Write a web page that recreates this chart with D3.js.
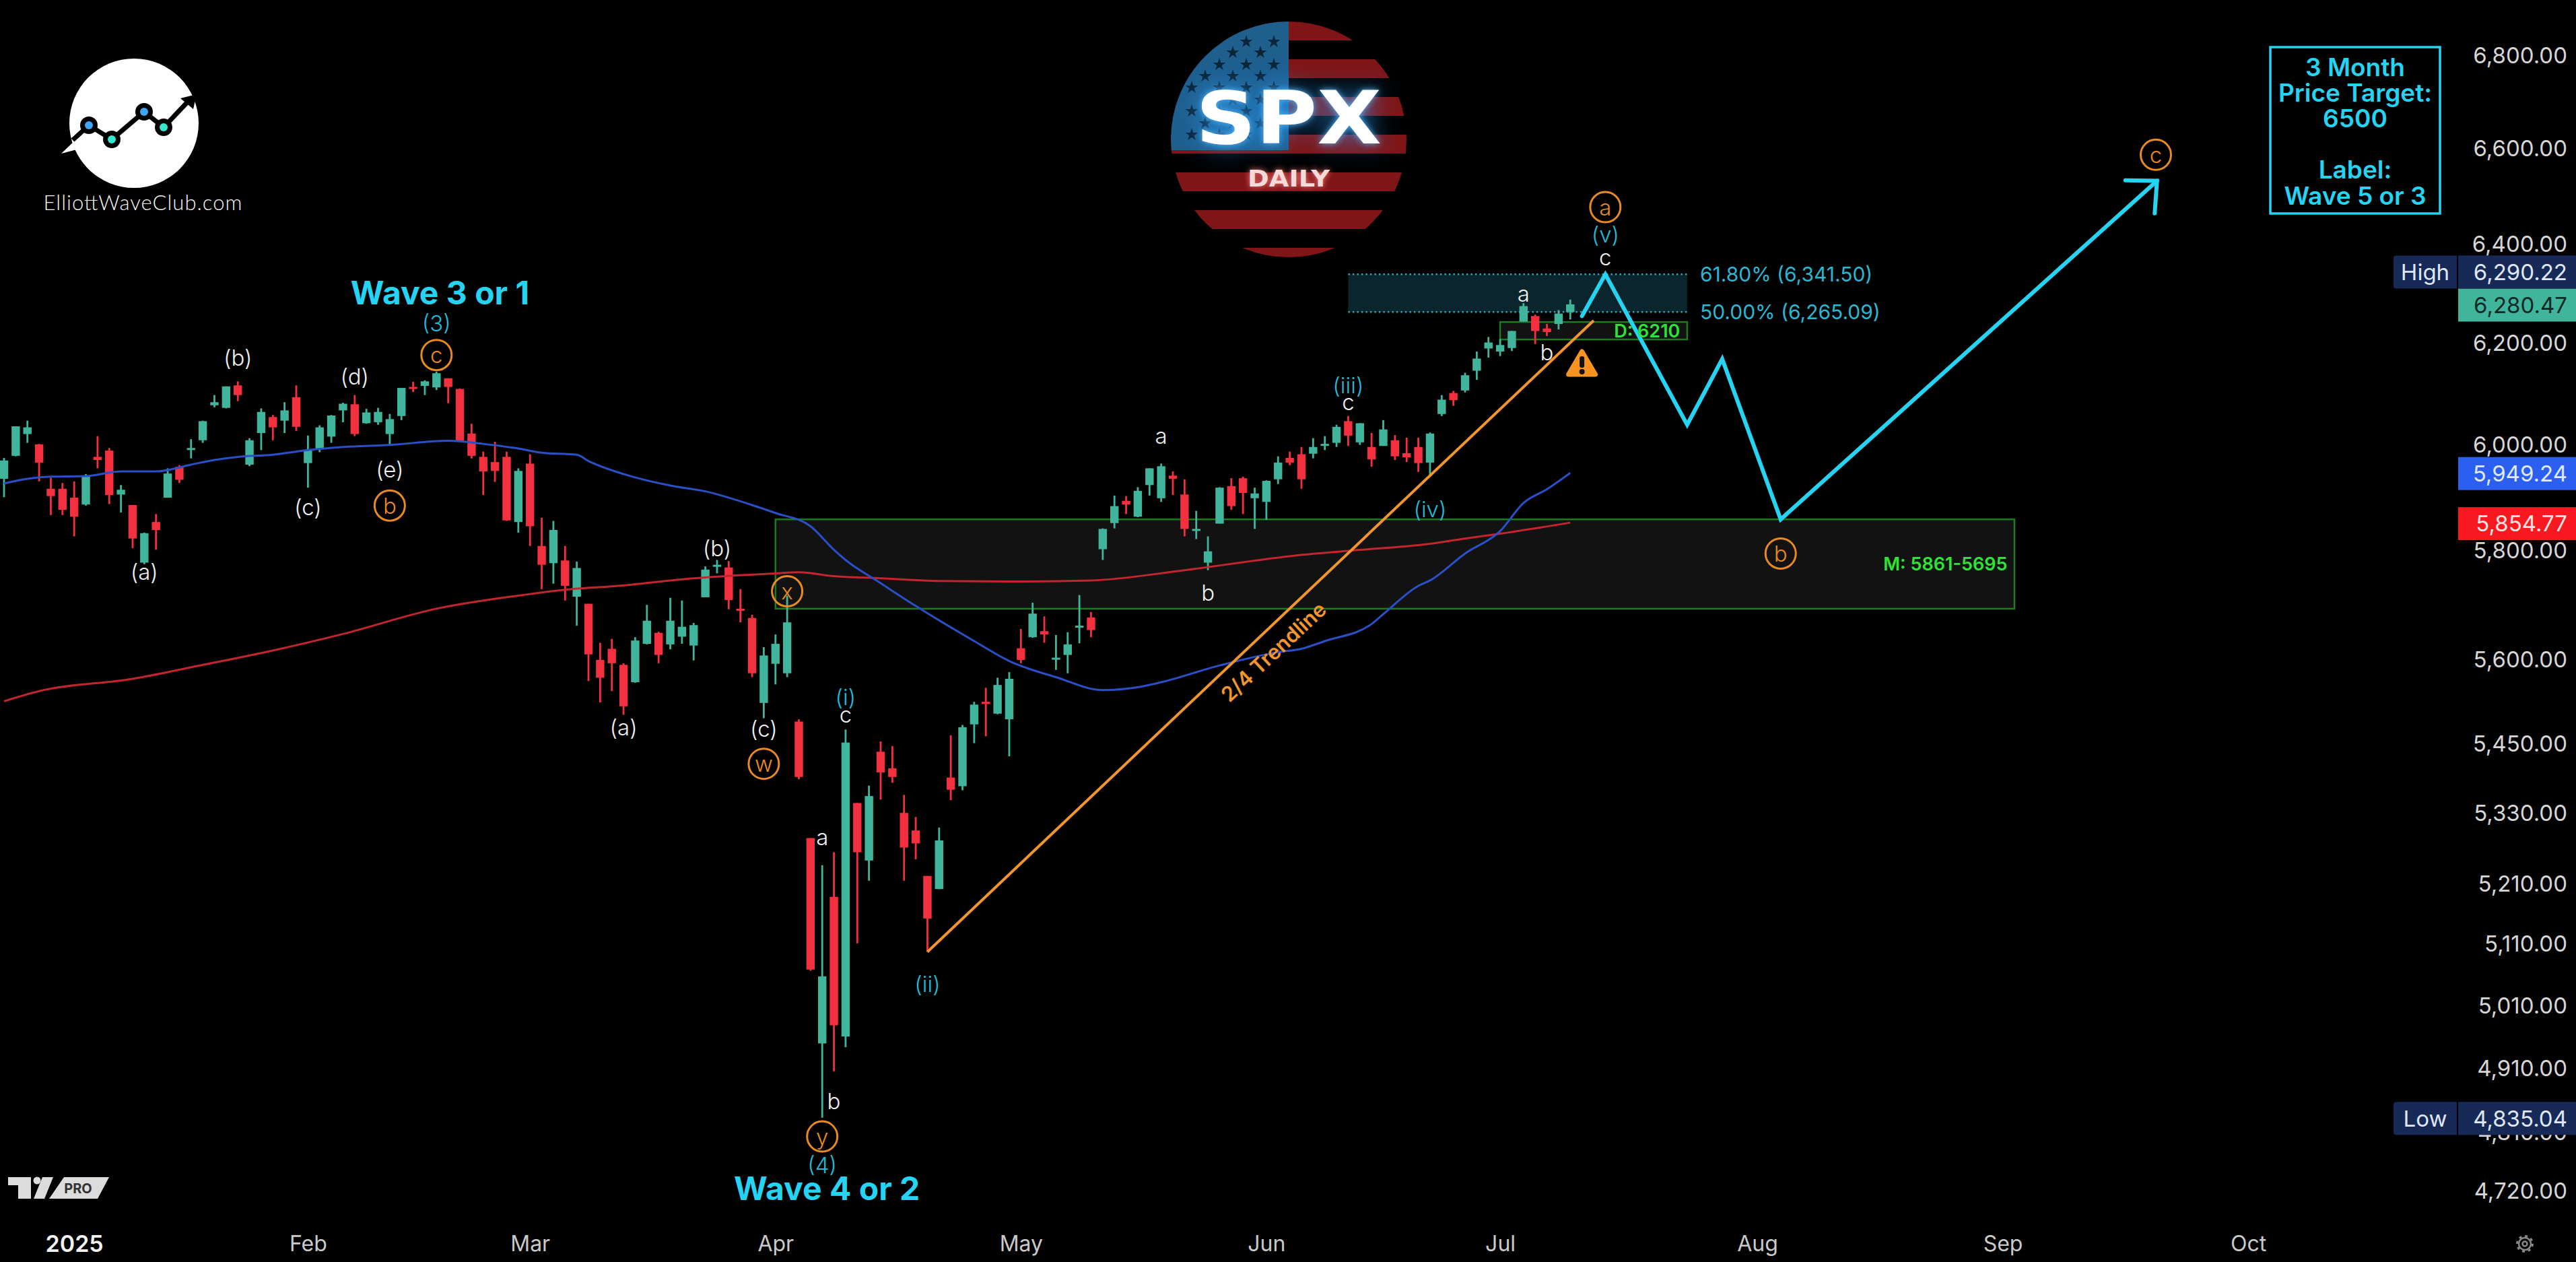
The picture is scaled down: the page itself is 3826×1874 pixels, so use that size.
<!DOCTYPE html>
<html>
<head>
<meta charset="utf-8">
<title>SPX Daily Elliott Wave</title>
<script src="https://cdn.jsdelivr.net/npm/d3@7/dist/d3.min.js"></script>
<style>
  html, body { margin: 0; padding: 0; background: #000; overflow: hidden; }
  svg { display: block; }
  text { font-family: Inter, "Noto Sans", sans-serif; }
</style>
</head>
<body>
<svg id="chart" width="3826" height="1874"></svg>
<script>
// Daily S&P 500 candles, one entry per trading session
const opens = [5938,5982,6024,6004,5919,5919,5902,5889,5980,5992,5908,5888,5780,5856,5902,5961,5996,6012,6080,6075,
  6119,5965,6026,6057,6050,6096,5968,5996,6019,6070,6082,6045,6047,6024,6059,6116,6118,6115,6133,6112,
  6025,5980,5970,5980,5856,5967,5811,5779,5784,5717,5704,5602,5622,5593,5562,5631,5651,5630,5644,5628,
  5716,5775,5771,5695,5678,5525,5595,5578,5492,5290,4952,5191,4963,5350,5252,5439,5410,5333,5303,5226,
  5204,5394,5379,5487,5527,5506,5496,5623,5643,5654,5604,5611,5663,5679,5805,5854,5896,5866,5926,5901,
  5944,5908,5841,5780,5853,5924,5939,5901,5894,5937,5978,5985,5986,6004,6007,6049,6008,5999,6001,6012,
  5987,5999,5969,6063,6104,6109,6148,6192,6186,6193,6246,6257,6232,6241,6265];
const highs = [5978,6039,6050,6005,5940,5930,5933,5947,6020,5997,5926,5888,5836,5871,5958,5964,6014,6050,6100,6117,
  6127,6016,6074,6061,6086,6119,6021,6041,6061,6085,6100,6073,6075,6063,6114,6126,6129,6146,6133,6113,
  6044,5990,6009,5990,5958,5985,5864,5858,5811,5782,5704,5633,5640,5596,5643,5702,5653,5715,5710,5669,
  5773,5785,5783,5731,5684,5625,5648,5719,5496,5290,5244,5266,5478,5350,5380,5457,5449,5364,5326,5226,
  5308,5468,5486,5527,5552,5570,5580,5658,5706,5681,5647,5652,5720,5689,5844,5906,5905,5922,5958,5967,
  5952,5937,5877,5829,5922,5939,5942,5921,5935,5981,5990,5999,6016,6020,6042,6059,6045,6026,6051,6022,
  6017,6017,6027,6100,6108,6144,6186,6215,6211,6227,6283,6260,6241,6269,6290.22];
const lows = [5903,5981,6007,5933,5869,5869,5829,5887,5958,5890,5874,5807,5777,5804,5902,5930,5977,6007,6076,6074,
  6088,5962,5993,6012,6026,6030,5921,5989,6007,6047,6020,6044,6042,6002,6051,6106,6100,6110,6084,6009,
  5977,5907,5932,5858,5836,5811,5731,5741,5710,5664,5564,5526,5546,5504,5561,5630,5596,5621,5631,5601,
  5716,5760,5694,5670,5571,5498,5558,5571,5391,5069,4835.04,4908,4946,5114,5218,5356,5385,5218,5254,5100,
  5204,5355,5372,5454,5466,5505,5431,5596,5642,5633,5584,5578,5632,5643,5785,5844,5871,5865,5906,5894,
  5907,5829,5824,5766,5853,5879,5871,5843,5860,5928,5964,5919,5977,5993,5999,6001,6003,5961,6001,5974,
  5970,5951,5944,6059,6079,6105,6130,6174,6177,6187,6246,6201,6217,6230,6250];
const closes = [5973,6039,6037,5969,5905,5879,5866,5942,5974,5907,5917,5825,5835,5841,5948,5936,5997,6049,6086,6117,
  6100,6012,6067,6037,6070,6038,5993,6037,6060,6083,6024,6066,6067,6053,6114,6113,6127,6143,6116,6009,
  5982,5952,5953,5859,5953,5848,5776,5841,5737,5770,5612,5570,5596,5519,5637,5673,5611,5673,5662,5665,
  5767,5776,5711,5694,5578,5610,5631,5670,5395,5071,5060,4981,5455,5266,5362,5403,5395,5274,5281,5155,
  5286,5373,5482,5522,5526,5557,5568,5602,5686,5648,5606,5630,5664,5656,5843,5886,5889,5915,5958,5962,
  5938,5843,5843,5801,5921,5886,5911,5910,5934,5969,5969,5937,5999,6005,6038,6021,6045,5975,6033,5981,
  5979,5968,6025,6091,6090,6139,6172,6204,6199,6227,6277,6227,6225,6262,6280.47];

// Moving averages, sampled at the session index given alongside
const ma50Index = [0,2,4,7,10,13,16,18,20,23,26,29,33,38,41,44,46,49,50,53,57,60,64,66,69,71,72,75,78,83,86,90,94,97,99,104,109,111,113,117,118,121,122,125,128,130,132,134];
const ma50Value = [5929,5938,5942,5943,5952,5952,5965,5974,5980,5984,5993,5999,6003,6011,6005,5996,5988,5984,5972,5947,5925,5914,5888,5873,5848,5804,5785,5742,5700,5636,5600,5571,5548,5553,5562,5592,5616,5622,5636,5667,5685,5737,5747,5797,5839,5892,5918,5949.24];
const ma200Index = [0,3,11,17,23,29,37,44,49,52,59,66,68,71,75,80,86,93,101,110,115,122,125,128,134];
const ma200Value = [5528,5546,5568,5593,5619,5649,5695,5719,5732,5736,5751,5760,5762,5755,5751,5746,5745,5747,5766,5792,5802,5815,5825,5834,5854.77];

// Axis ticks
const priceTicks = [6800,6600,6400,6200,6000,5800,5600,5450,5330,5210,5110,5010,4910,4810,4720];
const timeTickIndex = [6,26,45,66,87,108,128,150,171,192];
const timeTickLabels = ["2025","Feb","Mar","Apr","May","Jun","Jul","Aug","Sep","Oct"];

// Projected path and trendline
const pathIndex = [135,137,144,147,152,184.2];
const pathPrice = [6257,6341.5,6042,6171,5861,6535];
const arrowIndex = [181.5,184.2,184];
const arrowPrice = [6536,6535,6467];
const trendIndex = [79,136];
const trendPrice = [5100,6248];

// Wave labels: text, session index, price level
const whiteLabels = [["(a)",12,5763],["(b)",20,6174],["(c)",26,5884],["(d)",30,6136],["(e)",33,5956],
  ["(a)",53,5482],["(b)",61,5807],["(c)",65,5480],["c",72,5505],["a",70,5292],["b",71,4861],
  ["a",99,6021],["b",103,5725],["c",115,6086],["c",137,6376],["a",130,6302],["b",132,6185]];
const cyanLabels = [["(3)",37,6243],["(i)",72,5536],["(4)",70,4762],["(ii)",79,5048],["(iii)",115,6119],["(iv)",122,5880],["(v)",137,6424]];
const circledLabels = [["b",33,5887],["c",37,6179],["x",67,5727],["w",65,5418],["y",70,4806],["a",137,6480],["c",184.1,6590],["b",152,5797]];
const waveTitles = [["Wave 3 or 1",37.3,6305],["Wave 4 or 2",70.4,4727]];

// Price zones
const mZone = {from:66, to:172, top:5861, bottom:5695};
const dZone = {from:128, to:144, top:6245, bottom:6210};
const fibZone = {from:115, to:144, top:6341.5, bottom:6265.09};
const targetLines = ["3 Month","Price Target:","6500","","Label:","Wave 5 or 3"];

const green = "#41b59c", red = "#f2303f", cyan = "#25d3f2", orange = "#e88a22", zoneGreen = "#1c7a22";
const svg = d3.select("#chart");
const defs = svg.append("defs");

const x = d3.scaleLinear().domain([0,134]).range([6,6+17.36*134]);
const y = d3.scaleLog().domain([6800,4720]).range([85,1771]);

svg.append("rect").attr("width",3826).attr("height",1874).attr("fill","#000");

// Zones sit underneath the candles
const zones = svg.append("g");
zones.append("rect").attr("x",x(mZone.from)).attr("y",y(mZone.top))
  .attr("width",x(mZone.to)-x(mZone.from)).attr("height",y(mZone.bottom)-y(mZone.top))
  .attr("fill","#121212").attr("stroke",zoneGreen).attr("stroke-width",2.5);
zones.append("rect").attr("x",x(fibZone.from)).attr("y",y(fibZone.top))
  .attr("width",x(fibZone.to)-x(fibZone.from)).attr("height",y(fibZone.bottom)-y(fibZone.top))
  .attr("fill","#0b252c");
[fibZone.top,fibZone.bottom].forEach(p => zones.append("line")
  .attr("x1",x(fibZone.from)).attr("x2",x(fibZone.to)).attr("y1",y(p)).attr("y2",y(p))
  .attr("stroke","#2fa6ba").attr("stroke-width",2.5).attr("stroke-dasharray","2.5 4"));
zones.append("rect").attr("x",x(dZone.from)).attr("y",y(dZone.top))
  .attr("width",x(dZone.to)-x(dZone.from)).attr("height",y(dZone.bottom)-y(dZone.top))
  .attr("fill","#121212").attr("stroke",zoneGreen).attr("stroke-width",2.5);

// Candles
const sessions = d3.range(opens.length);
const candle = svg.append("g").selectAll("g").data(sessions).join("g")
  .attr("fill", i => closes[i] >= opens[i] ? green : red)
  .attr("stroke", i => closes[i] >= opens[i] ? green : red);
candle.append("line").attr("x1",i=>x(i)).attr("x2",i=>x(i))
  .attr("y1",i=>y(highs[i])).attr("y2",i=>y(lows[i])).attr("stroke-width",2.8);
candle.append("rect").attr("x",i=>x(i)-6.2).attr("width",12.4).attr("stroke","none")
  .attr("y",i=>Math.min(y(opens[i]),y(closes[i])))
  .attr("height",i=>Math.max(3,Math.abs(y(opens[i])-y(closes[i]))));

// Moving averages
const maLine = d3.line().x(d=>x(d[0])).y(d=>y(d[1])).curve(d3.curveMonotoneX);
svg.append("path").attr("d",maLine(ma200Index.map((v,i)=>[v,ma200Value[i]])))
  .attr("fill","none").attr("stroke","#c4242e").attr("stroke-width",3);
svg.append("path").attr("d",maLine(ma50Index.map((v,i)=>[v,ma50Value[i]])))
  .attr("fill","none").attr("stroke","#2a50c8").attr("stroke-width",3);

// Trendline and its caption
const straight = d3.line().x(d=>x(d[0])).y(d=>y(d[1]));
svg.append("path").attr("d",straight(trendIndex.map((v,i)=>[v,trendPrice[i]])))
  .attr("fill","none").attr("stroke","#f2952c").attr("stroke-width",4);
svg.append("text").text("2/4 Trendline")
  .attr("transform",`translate(${x(108.6)},${y(5617)}) rotate(-43)`)
  .attr("text-anchor","middle").attr("dominant-baseline","central")
  .attr("font-size",31).attr("font-weight",600).attr("fill","#f2952c");

// Projected path with an arrowhead
const pathStyle = s => s.attr("fill","none").attr("stroke",cyan).attr("stroke-width",6)
  .attr("stroke-linecap","round").attr("stroke-linejoin","miter");
svg.append("path").attr("d",straight(pathIndex.map((v,i)=>[v,pathPrice[i]]))).call(pathStyle);
svg.append("path").attr("d",straight(arrowIndex.map((v,i)=>[v,arrowPrice[i]]))).call(pathStyle);

// Wave labels
const place = (sel,size,fill,weight) => sel
  .attr("x",d=>x(d[1])).attr("y",d=>y(d[2])).text(d=>d[0])
  .attr("text-anchor","middle").attr("dominant-baseline","central")
  .attr("font-size",size).attr("font-weight",weight).attr("fill",fill);
svg.append("g").selectAll("text").data(whiteLabels).join("text").call(place,33,"#f0f0f0",300);
svg.append("g").selectAll("text").data(cyanLabels).join("text").call(place,33,"#22bcd8",300);
const circled = svg.append("g").selectAll("g").data(circledLabels).join("g");
circled.append("circle").attr("cx",d=>x(d[1])).attr("cy",d=>y(d[2])).attr("r",22.5)
  .attr("fill","none").attr("stroke",orange).attr("stroke-width",3);
circled.append("text").call(place,33,orange,300);
svg.append("g").selectAll("text").data(waveTitles).join("text").call(place,48,cyan,700);

// Zone captions
const caption = (txt,i,p,anchor,size,fill,weight) => svg.append("text").text(txt)
  .attr("x",x(i)).attr("y",y(p)).attr("text-anchor",anchor).attr("dominant-baseline","central")
  .attr("font-size",size).attr("fill",fill).attr("font-weight",weight);
caption("M: 5861-5695",171.4,5777,"end",27,"#2fe336",600);
caption("D: 6210",143.4,6227,"end",27,"#2fe336",600);
caption("61.80% (6,341.50)",145.1,fibZone.top,"start",30,"#2db6d0",400);
caption("50.00% (6,265.09)",145.1,fibZone.bottom,"start",30,"#2db6d0",400);

// Warning marker next to the trendline
const warn = svg.append("g").attr("transform",`translate(${x(135)},${y(6162)})`);
warn.append("path").attr("d","M0,-18 L20,16 L-20,16 Z").attr("fill","#f7931e")
  .attr("stroke","#f7931e").attr("stroke-width",7).attr("stroke-linejoin","round");
warn.append("rect").attr("x",-3.5).attr("y",-11).attr("width",7).attr("height",17).attr("rx",3).attr("fill","#111");
warn.append("circle").attr("cy",12).attr("r",4).attr("fill","#111");

// Price axis
const yAxis = d3.axisRight(y).tickValues(priceTicks).tickSize(0).tickPadding(0).tickFormat(d3.format(",.2f"));
const yAxisG = svg.append("g").attr("transform","translate(3813,0)").call(yAxis);
yAxisG.select(".domain").remove();
yAxisG.selectAll("text").attr("text-anchor","end").attr("x",0).attr("dy","0.32em").attr("y",-2)
  .attr("font-size",33).attr("fill","#d6d6d6").style("font-family","Inter");

// Time axis
const xAxis = d3.axisBottom(x).tickValues(timeTickIndex).tickSize(0).tickPadding(0)
  .tickFormat((d,i)=>timeTickLabels[i]);
const xAxisG = svg.append("g").attr("transform","translate(0,1847)").call(xAxis);
xAxisG.select(".domain").remove();
xAxisG.selectAll("text").attr("y",0).attr("dy","0.35em").attr("font-size",32)
  .attr("fill","#c9c9c9").style("font-family","Inter")
  .filter((d,i)=>i===0).attr("fill","#f2f2f2").attr("font-weight",600).attr("font-size",34);

// Price tags on the axis
const tag = (value,pad,fill,color,txt) => {
  const cy = y(value)+pad;
  svg.append("rect").attr("x",3651).attr("y",cy-24.5).attr("width",175).attr("height",49).attr("fill",fill);
  svg.append("text").text(txt).attr("x",3813).attr("y",cy).attr("dy","0.36em")
    .attr("text-anchor","end").attr("font-size",33).attr("fill",color);
};
const sideTag = (cy,label) => {
  svg.append("path").attr("d",`M3649,${cy-24.5} H3559 a4,4 0 0 0 -4,4 V${cy+20.5} a4,4 0 0 0 4,4 H3649 Z`).attr("fill","#172a57");
  svg.append("text").text(label).attr("x",3602).attr("y",cy).attr("dy","0.36em")
    .attr("text-anchor","middle").attr("font-size",33).attr("fill","#dfe6f5");
};
tag(6280.47,1,green,"#0c2a25","6,280.47");
tag(6290.22,-41,"#172a57","#dfe6f5","6,290.22");
sideTag(404,"High");
tag(5949.24,1,"#2a5ff0","#e0e8ff","5,949.24");
tag(5854.77,1.5,"#f7191f","#ffe5e5","5,854.77");
tag(4835.04,1,"#172a57","#dfe6f5","4,835.04");
sideTag(y(4835.04)+1,"Low");

// Target box
svg.append("rect").attr("x",3372).attr("y",70).attr("width",252).attr("height",247)
  .attr("fill","none").attr("stroke",cyan).attr("stroke-width",3.5);
svg.append("g").selectAll("text").data(targetLines).join("text").text(d=>d)
  .attr("x",3498).attr("y",(d,i)=>99+i*38.2).attr("text-anchor","middle").attr("dominant-baseline","central")
  .attr("font-size",37).attr("font-weight",600).attr("fill",cyan);

// SPX flag badge
const flagClip = defs.append("clipPath").attr("id","flag");
flagClip.append("circle").attr("cx",1914).attr("cy",207).attr("r",175);
const glow = defs.append("filter").attr("id","glow").attr("x","-30%").attr("y","-60%").attr("width","160%").attr("height","220%");
glow.append("feGaussianBlur").attr("stdDeviation",20);
const glowTight = defs.append("filter").attr("id","glowTight").attr("x","-20%").attr("y","-40%").attr("width","140%").attr("height","180%");
glowTight.append("feGaussianBlur").attr("stdDeviation",5);

const badge = svg.append("g");
const flag = badge.append("g").attr("clip-path","url(#flag)");
d3.range(7).forEach(k => flag.append("rect").attr("x",1730).attr("width",370)
  .attr("y",32+k*56).attr("height",28).attr("fill","#7f1516"));
flag.append("rect").attr("x",1730).attr("y",32).attr("width",184).attr("height",191).attr("fill","#1e5f8e");
const starRows = [[62,[1851,1892]],[78,[1831,1872]],[96,[1811,1851,1892]],[113,[1790,1831,1872]],
  [130,[1770,1811,1851,1892]],[148,[1831,1872]],[165,[1770,1811,1851,1892]],[183,[1790,1831,1872]],[200,[1770,1811,1851,1892]]];
starRows.forEach(([sy,xs]) => xs.forEach(sx => flag.append("path")
  .attr("d",d3.symbol(d3.symbolStar,110)()).attr("transform",`translate(${sx},${sy})`).attr("fill","#0c2438")));

const logoText = (txt,cx,cy,size,len,fill) => badge.append("text").text(txt)
  .attr("x",cx).attr("y",cy).attr("text-anchor","middle").attr("dominant-baseline","central")
  .attr("textLength",len).attr("lengthAdjust","spacingAndGlyphs")
  .attr("font-size",size).attr("font-weight",700).attr("fill",fill).style("font-family","'DejaVu Sans'");
logoText("SPX",1914,175,108,276,"#2aa0ff").attr("filter","url(#glow)").attr("opacity",0.8);
logoText("SPX",1914,175,108,276,"#58b8ff").attr("filter","url(#glowTight)");
logoText("SPX",1914,175,108,276,"#ffffff");
logoText("DAILY",1914,265,33,122,"#ff8080").attr("filter","url(#glowTight)");
logoText("DAILY",1914,265,33,122,"#f6dada");

// Club logo
const club = svg.append("g");
club.append("circle").attr("cx",199).attr("cy",183).attr("r",96).attr("fill","#fff");
club.append("path").attr("d","M91,228 L112,208 L114,222 Z").attr("fill","#fff");
club.append("path").attr("d","M108,208 L132,186 L166,207 L214,166 L243,189 L278,152")
  .attr("fill","none").attr("stroke","#000").attr("stroke-width",7);
club.append("path").attr("d","M268,146 L292,140 L287,162 Z").attr("fill","#000");
[[132,186,"#3ea6f5"],[166,207,"#34e8d0"],[214,166,"#3ea6f5"],[243,189,"#34e8d0"]].forEach(([cx,cy,c]) => {
  club.append("circle").attr("cx",cx).attr("cy",cy).attr("r",13).attr("fill","#000");
  club.append("circle").attr("cx",cx).attr("cy",cy).attr("r",6).attr("fill",c);
});
club.append("text").text("ElliottWaveClub.com").attr("x",212).attr("y",300)
  .attr("text-anchor","middle").attr("dominant-baseline","central")
  .attr("textLength",295).attr("font-size",31).attr("font-weight",300).attr("fill","#f5f5f5")
  .style("font-family","Lato");

// Platform mark at the lower left
const mark = svg.append("g").attr("fill","#dcdcdc");
mark.append("path").attr("d","M12,1748 H46 V1780 H27 V1760 H12 Z");
mark.append("circle").attr("cx",55).attr("cy",1753).attr("r",5.5);
mark.append("path").attr("d","M63,1748 H79 L66,1780 H50 Z");
mark.append("path").attr("d","M95,1748 H162 L145,1780 H73 Z");
svg.append("text").text("PRO").attr("x",116).attr("y",1765).attr("text-anchor","middle")
  .attr("dominant-baseline","central").attr("font-size",20).attr("font-weight",700).attr("fill","#333");

// Chart settings glyph at the lower right
const gear = svg.append("g").attr("transform","translate(3750,1847)").attr("fill","none").attr("stroke","#8a8a8a");
gear.append("circle").attr("r",9).attr("stroke-width",2.5);
gear.append("circle").attr("r",3.5).attr("stroke-width",2.5);
gear.append("circle").attr("r",11.5).attr("stroke-width",3).attr("stroke-dasharray","4 5");
</script>
</body>
</html>
